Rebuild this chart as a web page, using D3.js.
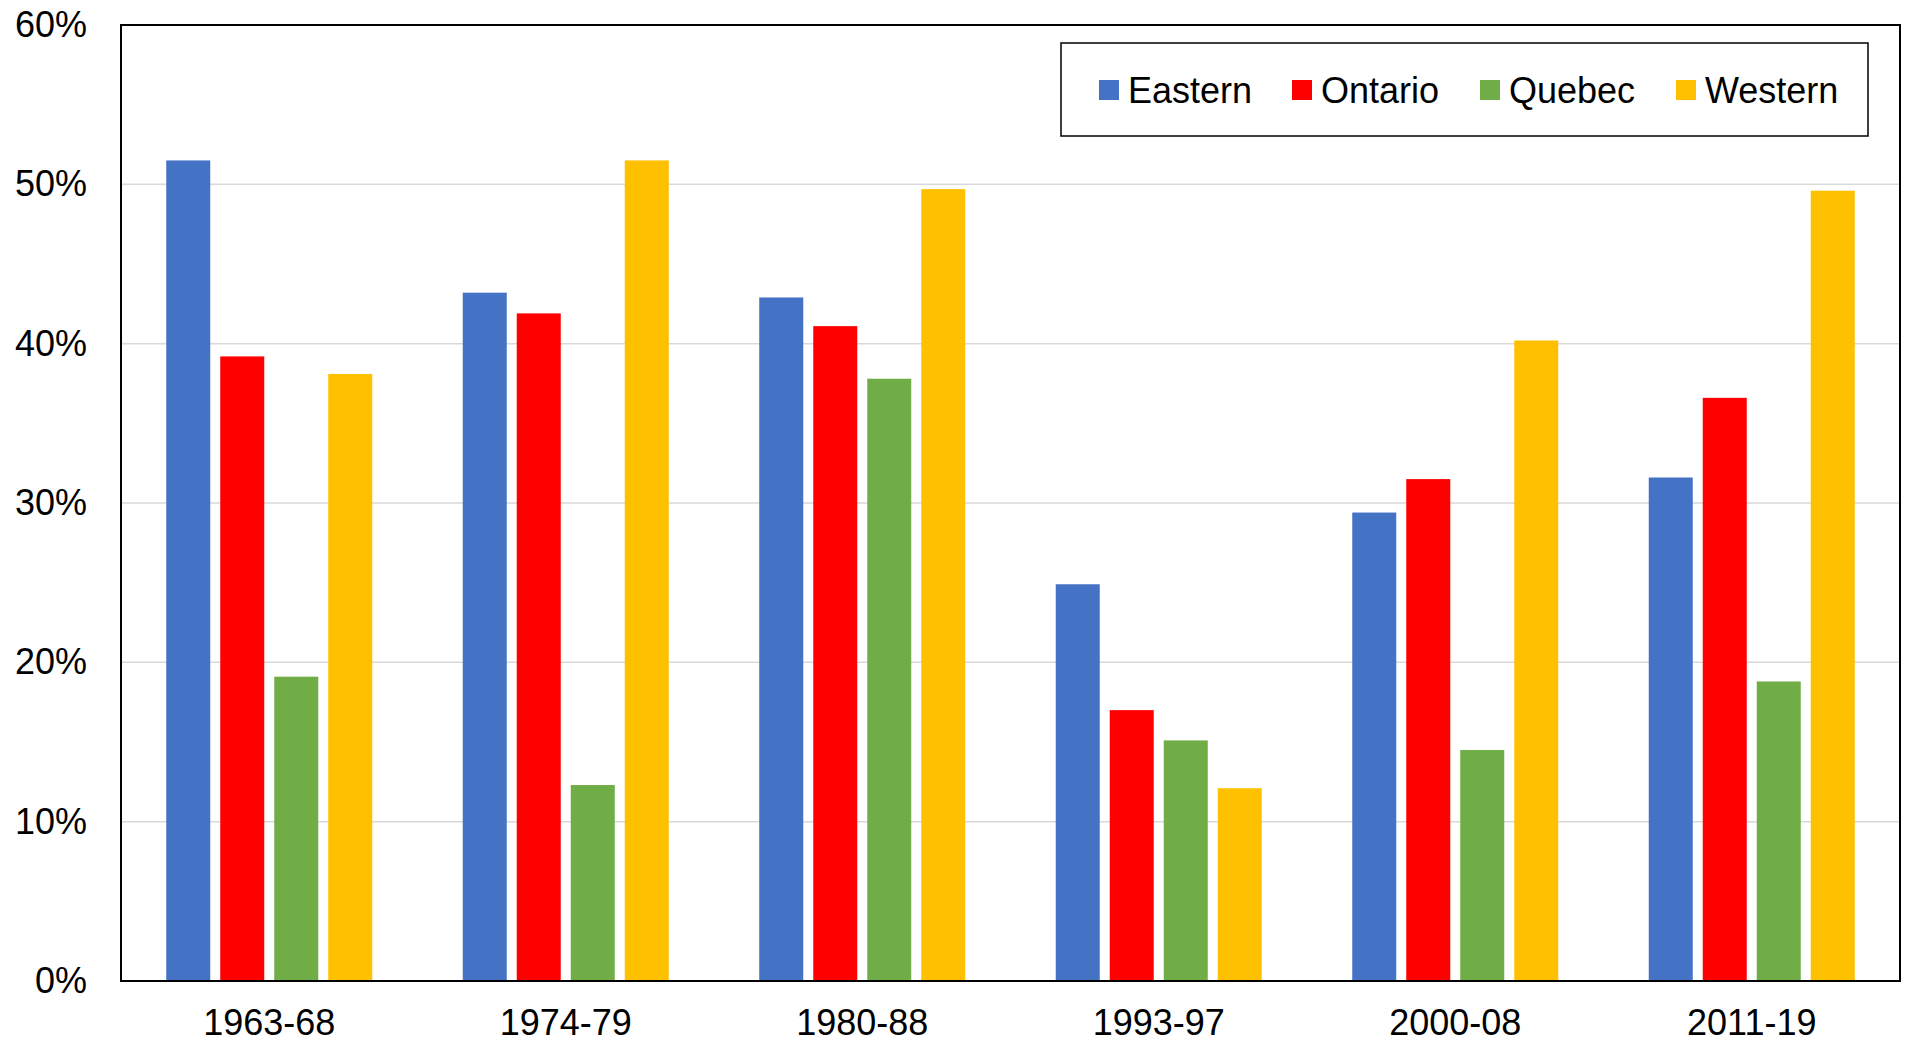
<!DOCTYPE html>
<html>
<head>
<meta charset="utf-8">
<script src="https://cdn.jsdelivr.net/npm/d3@7"></script>
<style>
  html, body { margin: 0; padding: 0; background: #fff; }
  svg text { font-family: "Liberation Sans", Arial, sans-serif; fill: #000; }
</style>
</head>
<body>
<svg id="chart" width="1905" height="1044"></svg>
<script>
const categories = ["1963-68", "1974-79", "1980-88", "1993-97", "2000-08", "2011-19"];
const seriesNames = ["Eastern", "Ontario", "Quebec", "Western"];
const eastern = [51.5, 43.2, 42.9, 24.9, 29.4, 31.6];
const ontario = [39.2, 41.9, 41.1, 17.0, 31.5, 36.6];
const quebec  = [19.1, 12.3, 37.8, 15.1, 14.5, 18.8];
const western = [38.1, 51.5, 49.7, 12.1, 40.2, 49.6];
const yTicks = [0, 10, 20, 30, 40, 50, 60];
const colors = ["#4472C4", "#FF0000", "#70AD47", "#FFC000"];

const seriesValues = [eastern, ontario, quebec, western];

const svg = d3.select("#chart");
const L = 121, R = 1900, T = 25, B = 981;

const x = d3.scaleBand().domain(categories).range([L, R]).paddingInner(0).paddingOuter(0);
const xs = d3.scaleBand().domain(seriesNames).range([-108, 108]).paddingInner(10/54).paddingOuter(5/54);
const y = d3.scaleLinear().domain([0, 60]).range([B, T]);

// gridlines
svg.append("g").selectAll("line").data(yTicks.filter(t => t > 0 && t < 60)).join("line")
  .attr("x1", L).attr("x2", R)
  .attr("y1", d => y(d)).attr("y2", d => y(d))
  .attr("stroke", "#d9d9d9").attr("stroke-width", 1.5);

// bars
const rows = [];
categories.forEach((c, ci) => {
  seriesNames.forEach((s, si) => rows.push({ c, s, si, v: seriesValues[si][ci] }));
});
svg.append("g").selectAll("rect").data(rows).join("rect")
  .attr("x", d => x(d.c) + x.bandwidth() / 2 + xs(d.s))
  .attr("width", xs.bandwidth())
  .attr("y", d => y(d.v))
  .attr("height", d => y(0) - y(d.v))
  .attr("fill", d => colors[d.si]);

// plot border
svg.append("rect").attr("x", L).attr("y", T).attr("width", R - L).attr("height", B - T)
  .attr("fill", "none").attr("stroke", "#000").attr("stroke-width", 2);

// y axis
const yAxis = d3.axisLeft(y).tickValues(yTicks).tickFormat(d => d + "%").tickSize(0).tickPadding(34);
const gy = svg.append("g").attr("transform", `translate(${L},0)`).call(yAxis);
gy.select(".domain").remove();
gy.selectAll("text").attr("font-size", 36).attr("font-family", "Liberation Sans, Arial, sans-serif").attr("fill", "#000");

// x axis
const xAxis = d3.axisBottom(x).tickSize(0).tickPadding(0);
const gx = svg.append("g").attr("transform", `translate(0,${B})`).call(xAxis);
gx.select(".domain").remove();
gx.selectAll("text").attr("font-size", 36).attr("font-family", "Liberation Sans, Arial, sans-serif")
  .attr("fill", "#000").attr("dy", null).attr("y", 54);

// legend
const legend = svg.append("g");
legend.append("rect").attr("x", 1061).attr("y", 43).attr("width", 807).attr("height", 93)
  .attr("fill", "#fff").attr("stroke", "#000").attr("stroke-width", 1.5);
const legX = [1099, 1292, 1480, 1676];
const items = legend.selectAll("g.item").data(seriesNames).join("g").attr("class", "item")
  .attr("transform", (d, i) => `translate(${legX[i]},0)`);
items.append("rect").attr("x", 0).attr("y", 80).attr("width", 20).attr("height", 20)
  .attr("fill", (d, i) => colors[i]);
items.append("text").attr("x", 29).attr("y", 102.5).attr("font-size", 36).text(d => d);
</script>
</body>
</html>
